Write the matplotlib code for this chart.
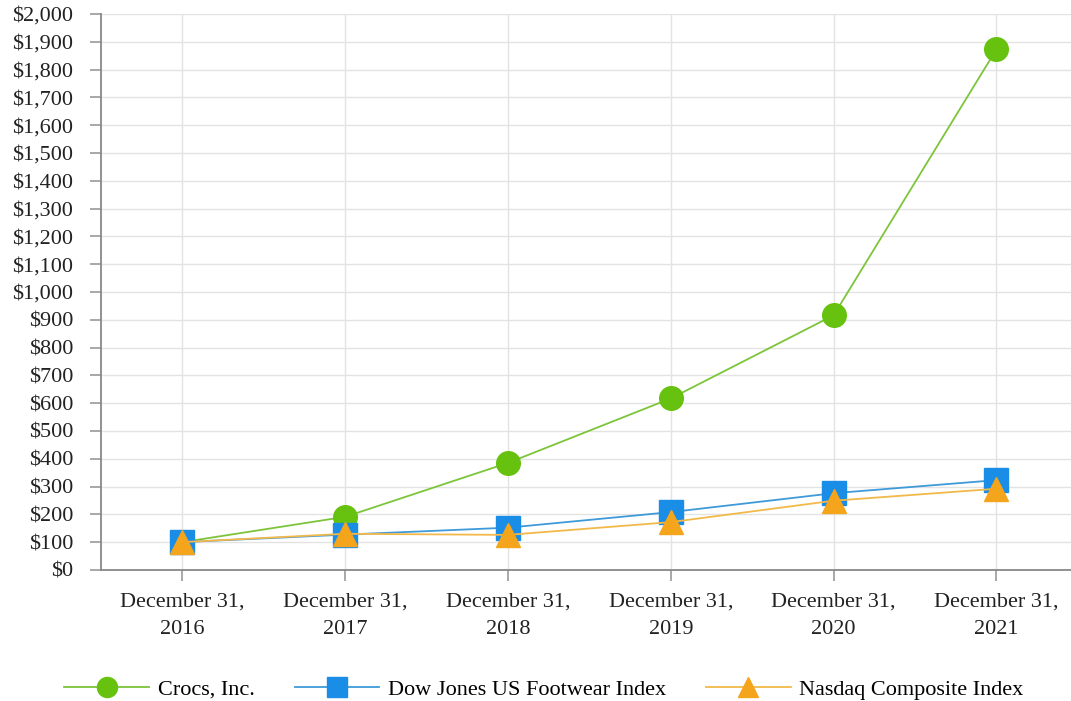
import matplotlib.pyplot as plt
from matplotlib.ticker import FuncFormatter

# Datos
years = ['December 31,\n2016', 'December 31,\n2017', 'December 31,\n2018',
         'December 31,\n2019', 'December 31,\n2020', 'December 31,\n2021']
crocs = [100, 191, 385, 617, 916, 1873]
dow_jones = [100, 127, 152, 208, 276, 323]
nasdaq = [100, 130, 126, 172, 249, 292]

plt.rcParams['font.family'] = ['Liberation Serif', 'DejaVu Serif']

fig = plt.figure(figsize=(10.71, 7.01), dpi=100)
ax = fig.add_axes([0.0943, 0.187, 0.906, 0.793])

x = range(len(years))
ax.plot(x, crocs, color='#7cc53a', lw=1.3, marker='o', ms=17,
        mfc='#66c20f', mec='#66c20f', label='Crocs, Inc.', zorder=3)
ax.plot(x, dow_jones, color='#3e9ad8', lw=1.3, marker='s', ms=17,
        mfc='#1a8de6', mec='#1a8de6', label='Dow Jones US Footwear Index', zorder=4)
ax.plot(x, nasdaq, color='#f2b94a', lw=1.3, marker='^', ms=17,
        mfc='#f5a51c', mec='#f5a51c', label='Nasdaq Composite Index', zorder=5)

ax.set_xlim(-0.5, 5.46)
ax.set_ylim(0, 2000)
ax.set_yticks(range(0, 2001, 100))
ax.yaxis.set_major_formatter(FuncFormatter(lambda v, p: '${:,.0f}'.format(v)))
ax.set_xticks(list(x))
ax.set_xticklabels(years, linespacing=1.6)
ax.tick_params(axis='both', labelsize=16, colors='#999999', labelcolor='#222222',
               length=8, width=1.2)
ax.tick_params(axis='y', pad=12)
ax.tick_params(axis='x', pad=8)
ax.grid(color='#e3e3e3', lw=1)
ax.set_axisbelow(True)
for s in ['top', 'right']:
    ax.spines[s].set_visible(False)
for s in ['left', 'bottom']:
    ax.spines[s].set_color('#888888')
    ax.spines[s].set_linewidth(1.3)

fig.legend(loc='lower center', bbox_to_anchor=(0.508, -0.027), ncol=3, frameon=False,
           fontsize=16, markerscale=0.85, handlelength=3.8, columnspacing=1.8,
           handletextpad=0.4)

plt.savefig('out.png', dpi=100)
